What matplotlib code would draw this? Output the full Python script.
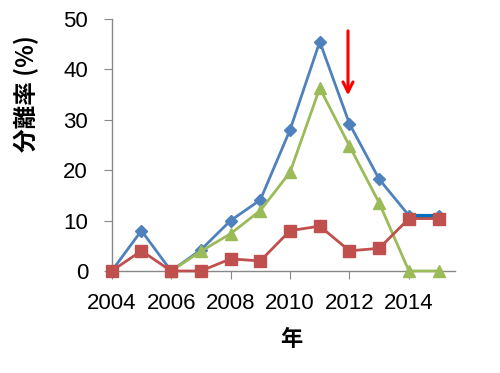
import matplotlib
matplotlib.use("Agg")
import matplotlib.pyplot as plt
import numpy as np

plt.rcParams['font.family'] = ['Liberation Sans', 'Noto Sans CJK JP', 'DejaVu Sans']

years = [2004, 2005, 2006, 2007, 2008, 2009, 2010, 2011, 2012, 2013, 2014, 2015]
blue = [0, 8, 0, 4.2, 10, 14.1, 28, 45.5, 29.2, 18.2, 11, 11]
green_years = [2006, 2007, 2008, 2009, 2010, 2011, 2012, 2013, 2014, 2015]
green = [0, 3.9, 7.4, 12, 19.6, 36.3, 24.8, 13.5, 0, 0]
red = [0, 4, 0, 0, 2.4, 2, 8, 8.9, 4, 4.5, 10.4, 10.4]
xticks = [2004, 2006, 2008, 2010, 2012, 2014]
yticks = [0, 10, 20, 30, 40, 50]

fig = plt.figure(figsize=(5, 3.73), dpi=100)
ax = fig.add_axes([0.2234, 0.2735, 0.9100 - 0.2234, 0.949 - 0.2735])

cb, cr, cg = '#4F81BD', '#C0504D', '#9BBB59'
ax.plot(years, blue, color=cb, lw=2, marker='D', ms=6.5, mec=cb, mfc=cb, clip_on=False, zorder=3)
ax.plot(years[-2:], blue[-2:], color='#0070C0', lw=3, clip_on=False, zorder=3.1)
ax.plot(green_years, green, color=cg, lw=2, marker='^', ms=8.5, mec=cg, mfc=cg, clip_on=False, zorder=4)
ax.plot(years, red, color=cr, lw=2, marker='s', ms=8.5, mec=cr, mfc=cr, clip_on=False, zorder=5)

ax.annotate('', xy=(2011.95, 34.3), xytext=(2011.95, 48.2),
            arrowprops=dict(arrowstyle='->', color='red', lw=2.2, mutation_scale=18))

ax.set_xlim(2004, 2015.55)
ax.set_ylim(0, 50)
ax.set_xticks(xticks)
ax.set_yticks(yticks)
for s in ['top', 'right']:
    ax.spines[s].set_visible(False)
for s in ['left', 'bottom']:
    ax.spines[s].set_color('#888888')
    ax.spines[s].set_linewidth(1)
ax.tick_params(axis='both', direction='out', length=6, color='#888888', labelsize=16, colors='black')
ax.tick_params(axis='y', pad=11)
ax.tick_params(axis='x', pad=10)
for t in ax.get_yticklabels() + ax.get_xticklabels():
    t.set_color('black')

fig.text(26 / 500, 1 - 94 / 373, '分離率 (%)', rotation=90, ha='center', va='center',
         fontsize=17, fontweight='bold', family=['Noto Sans CJK JP', 'Liberation Sans'])
fig.text(291 / 500, 1 - 340 / 373, '年', ha='center', va='center',
         fontsize=16, fontweight='bold', family=['Noto Sans CJK JP'])

fig.savefig('out.png', dpi=100)
